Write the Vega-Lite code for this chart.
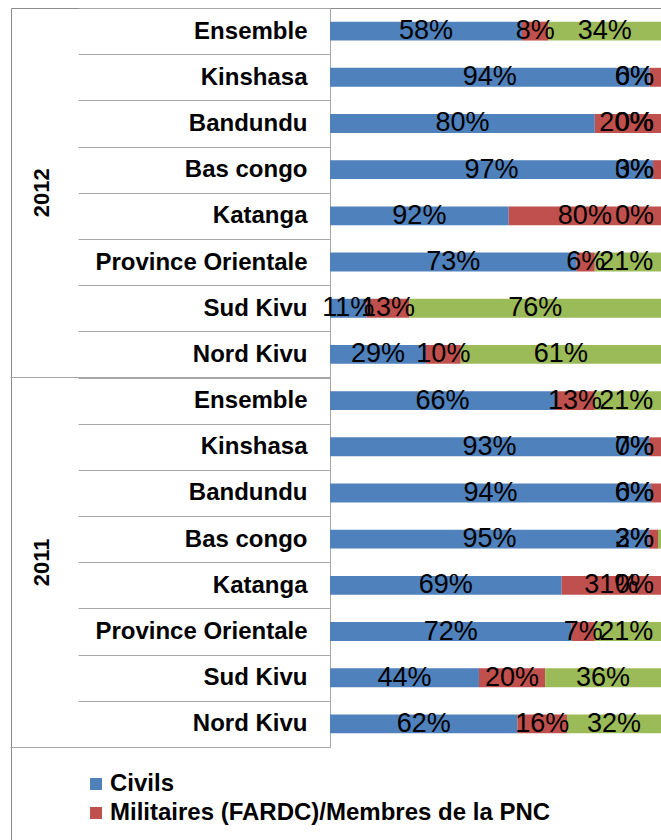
{
  "$schema": "https://vega.github.io/schema/vega-lite/v6.json",
  "width": 650,
  "height": 832,
  "autosize": "none",
  "padding": {"left": 11, "top": 8, "right": 0, "bottom": 0},
  "background": "white",
  "config": {
    "view": {"stroke": "#8c8c8c", "strokeWidth": 1},
    "font": "Liberation Sans"
  },
  "data": {
    "values": [
      {"annee": "2012", "region": "Ensemble", "serie": "Civils", "part": 58, "etiquette": 58},
      {"annee": "2012", "region": "Ensemble", "serie": "Militaires (FARDC)/Membres de la PNC", "part": 8, "etiquette": 8},
      {"annee": "2012", "region": "Ensemble", "serie": "Groupes armés", "part": 34, "etiquette": 34},
      {"annee": "2012", "region": "Kinshasa", "serie": "Civils", "part": 96.5, "etiquette": 94},
      {"annee": "2012", "region": "Kinshasa", "serie": "Militaires (FARDC)/Membres de la PNC", "part": 3.5, "etiquette": 6},
      {"annee": "2012", "region": "Kinshasa", "serie": "Groupes armés", "part": 0, "etiquette": 0},
      {"annee": "2012", "region": "Bandundu", "serie": "Civils", "part": 80, "etiquette": 80},
      {"annee": "2012", "region": "Bandundu", "serie": "Militaires (FARDC)/Membres de la PNC", "part": 20, "etiquette": 20},
      {"annee": "2012", "region": "Bandundu", "serie": "Groupes armés", "part": 0, "etiquette": 0},
      {"annee": "2012", "region": "Bas congo", "serie": "Civils", "part": 97.6, "etiquette": 97},
      {"annee": "2012", "region": "Bas congo", "serie": "Militaires (FARDC)/Membres de la PNC", "part": 2.4, "etiquette": 3},
      {"annee": "2012", "region": "Bas congo", "serie": "Groupes armés", "part": 0, "etiquette": 0},
      {"annee": "2012", "region": "Katanga", "serie": "Civils", "part": 54, "etiquette": 92},
      {"annee": "2012", "region": "Katanga", "serie": "Militaires (FARDC)/Membres de la PNC", "part": 46, "etiquette": 80},
      {"annee": "2012", "region": "Katanga", "serie": "Groupes armés", "part": 0, "etiquette": 0},
      {"annee": "2012", "region": "Province Orientale", "serie": "Civils", "part": 74.5, "etiquette": 73},
      {"annee": "2012", "region": "Province Orientale", "serie": "Militaires (FARDC)/Membres de la PNC", "part": 5.5, "etiquette": 6},
      {"annee": "2012", "region": "Province Orientale", "serie": "Groupes armés", "part": 20, "etiquette": 21},
      {"annee": "2012", "region": "Sud Kivu", "serie": "Civils", "part": 11, "etiquette": 11},
      {"annee": "2012", "region": "Sud Kivu", "serie": "Militaires (FARDC)/Membres de la PNC", "part": 13, "etiquette": 13},
      {"annee": "2012", "region": "Sud Kivu", "serie": "Groupes armés", "part": 76, "etiquette": 76},
      {"annee": "2012", "region": "Nord Kivu", "serie": "Civils", "part": 29, "etiquette": 29},
      {"annee": "2012", "region": "Nord Kivu", "serie": "Militaires (FARDC)/Membres de la PNC", "part": 10.5, "etiquette": 10},
      {"annee": "2012", "region": "Nord Kivu", "serie": "Groupes armés", "part": 60.5, "etiquette": 61},
      {"annee": "2011", "region": "Ensemble", "serie": "Civils", "part": 68, "etiquette": 66},
      {"annee": "2011", "region": "Ensemble", "serie": "Militaires (FARDC)/Membres de la PNC", "part": 12, "etiquette": 13},
      {"annee": "2011", "region": "Ensemble", "serie": "Groupes armés", "part": 20, "etiquette": 21},
      {"annee": "2011", "region": "Kinshasa", "serie": "Civils", "part": 96.4, "etiquette": 93},
      {"annee": "2011", "region": "Kinshasa", "serie": "Militaires (FARDC)/Membres de la PNC", "part": 3.6, "etiquette": 7},
      {"annee": "2011", "region": "Kinshasa", "serie": "Groupes armés", "part": 0, "etiquette": 0},
      {"annee": "2011", "region": "Bandundu", "serie": "Civils", "part": 97, "etiquette": 94},
      {"annee": "2011", "region": "Bandundu", "serie": "Militaires (FARDC)/Membres de la PNC", "part": 3, "etiquette": 6},
      {"annee": "2011", "region": "Bandundu", "serie": "Groupes armés", "part": 0, "etiquette": 0},
      {"annee": "2011", "region": "Bas congo", "serie": "Civils", "part": 96.4, "etiquette": 95},
      {"annee": "2011", "region": "Bas congo", "serie": "Militaires (FARDC)/Membres de la PNC", "part": 2.7, "etiquette": 3},
      {"annee": "2011", "region": "Bas congo", "serie": "Groupes armés", "part": 0.9, "etiquette": 2},
      {"annee": "2011", "region": "Katanga", "serie": "Civils", "part": 70, "etiquette": 69},
      {"annee": "2011", "region": "Katanga", "serie": "Militaires (FARDC)/Membres de la PNC", "part": 30, "etiquette": 31},
      {"annee": "2011", "region": "Katanga", "serie": "Groupes armés", "part": 0, "etiquette": 0},
      {"annee": "2011", "region": "Province Orientale", "serie": "Civils", "part": 73, "etiquette": 72},
      {"annee": "2011", "region": "Province Orientale", "serie": "Militaires (FARDC)/Membres de la PNC", "part": 7, "etiquette": 7},
      {"annee": "2011", "region": "Province Orientale", "serie": "Groupes armés", "part": 20, "etiquette": 21},
      {"annee": "2011", "region": "Sud Kivu", "serie": "Civils", "part": 45, "etiquette": 44},
      {"annee": "2011", "region": "Sud Kivu", "serie": "Militaires (FARDC)/Membres de la PNC", "part": 20, "etiquette": 20},
      {"annee": "2011", "region": "Sud Kivu", "serie": "Groupes armés", "part": 35, "etiquette": 36},
      {"annee": "2011", "region": "Nord Kivu", "serie": "Civils", "part": 56.6, "etiquette": 62},
      {"annee": "2011", "region": "Nord Kivu", "serie": "Militaires (FARDC)/Membres de la PNC", "part": 15, "etiquette": 16},
      {"annee": "2011", "region": "Nord Kivu", "serie": "Groupes armés", "part": 28.4, "etiquette": 32}
    ]
  },
  "transform": [
    {"calculate": "datum.annee + '|' + datum.region", "as": "cle"},
    {"calculate": "indexof(['Civils','Militaires (FARDC)/Membres de la PNC','Groupes armés'], datum.serie)", "as": "ordre"},
    {"window": [{"op": "sum", "field": "part", "as": "cumul"}], "groupby": ["cle"], "sort": [{"field": "ordre"}], "frame": [null, 0]},
    {"joinaggregate": [{"op": "sum", "field": "part", "as": "total"}], "groupby": ["cle"]},
    {"calculate": "(datum.cumul - datum.part) / datum.total", "as": "x0"},
    {"calculate": "datum.cumul / datum.total", "as": "x1"},
    {"calculate": "datum.etiquette + '%'", "as": "lab"},
    {"calculate": "min((datum.x0 + datum.x1) / 2, length(datum.lab) == 2 ? 0.92 : 0.895)", "as": "lx"}
  ],
  "layer": [
    {
      "mark": {"type": "bar", "height": {"band": 0.41}},
      "encoding": {
        "y": {
          "field": "cle", "type": "nominal",
          "scale": {
            "domain": ["2012|Ensemble","2012|Kinshasa","2012|Bandundu","2012|Bas congo","2012|Katanga","2012|Province Orientale","2012|Sud Kivu","2012|Nord Kivu","2011|Ensemble","2011|Kinshasa","2011|Bandundu","2011|Bas congo","2011|Katanga","2011|Province Orientale","2011|Sud Kivu","2011|Nord Kivu"],
            "range": [0, 739], "paddingInner": 0, "paddingOuter": 0
          },
          "axis": {
            "orient": "left", "offset": -319, "title": null, "grid": false,
            "tickBand": "extent", "tickSize": 252, "tickColor": "#a6a6a6", "tickWidth": 1,
            "domainColor": "#a6a6a6", "domainWidth": 1,
            "labelPadding": -229, "labelFont": "Liberation Sans", "labelFontWeight": "bold",
            "labelFontSize": 24, "labelColor": "black", "labelLimit": 400, "labelOverlap": false,
            "labelExpr": "split(datum.value, '|')[1]"
          }
        },
        "x": {"field": "x0", "type": "quantitative", "scale": {"domain": [0, 1], "range": [319, 650], "nice": false}, "axis": null},
        "x2": {"field": "x1"},
        "color": {
          "field": "serie", "type": "nominal",
          "scale": {"domain": ["Civils","Militaires (FARDC)/Membres de la PNC","Groupes armés"], "range": ["#4F81BD","#C0504D","#9BBB59"]},
          "legend": {
            "orient": "none", "legendX": 73, "legendY": 764, "title": null, "direction": "vertical",
            "values": ["Civils", "Militaires (FARDC)/Membres de la PNC"],
            "symbolType": "square", "symbolSize": 144, "symbolStrokeWidth": 0,
            "labelFont": "Liberation Sans", "labelFontSize": 24, "labelFontWeight": "bold", "labelColor": "black",
            "labelOffset": 2, "rowPadding": 5, "padding": 0, "labelLimit": 700
          }
        }
      }
    },
    {
      "mark": {"type": "text", "font": "Liberation Sans", "fontSize": 27, "color": "black", "align": "center", "baseline": "middle"},
      "encoding": {
        "y": {
          "field": "cle", "type": "nominal",
          "axis": {
            "orient": "left", "offset": -319, "title": null, "grid": false, "domain": false,
            "values": ["2012|Nord Kivu", "2011|Nord Kivu"], "bandPosition": 1, "tickExtra": false,
            "tickSize": 320, "tickColor": "#a6a6a6", "tickWidth": 1,
            "labelExpr": "split(datum.value, '|')[0]", "labelAngle": 270, "labelAlign": "center", "labelBaseline": "middle",
            "labelPadding": -31, "labelOffset": -161.6, "labelFont": "Liberation Sans", "labelFontWeight": "bold",
            "labelFontSize": 22, "labelColor": "black", "labelOverlap": false
          }
        },
        "x": {"field": "lx", "type": "quantitative"},
        "text": {"field": "lab"}
      }
    }
  ],
  "resolve": {"axis": {"y": "independent"}}
}
